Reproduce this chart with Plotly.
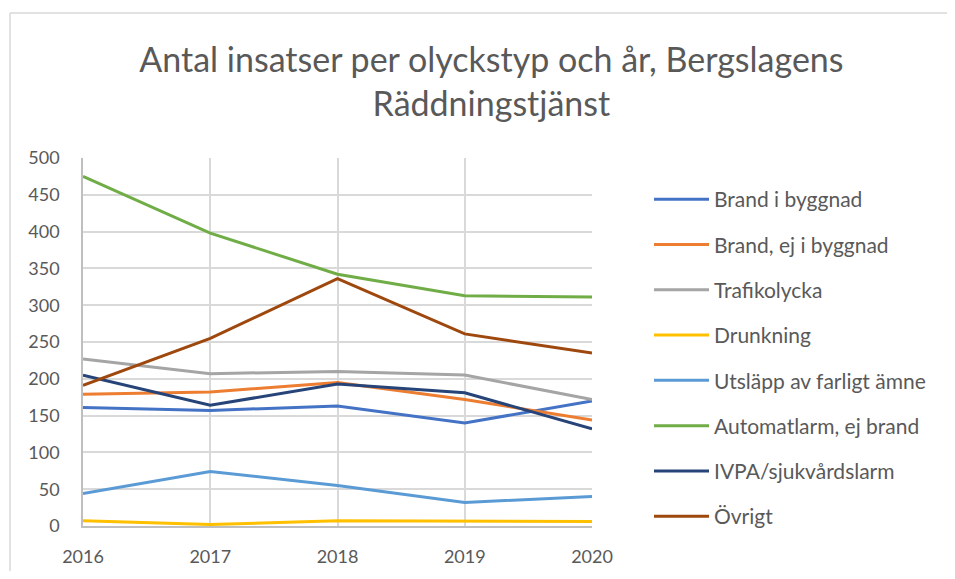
import plotly.graph_objects as go

years = [2016, 2017, 2018, 2019, 2020]
brand_i_byggnad = [161, 157, 163, 140, 170]
brand_ej_i_byggnad = [179, 182, 195, 172, 144]
trafikolycka = [227, 207, 210, 205, 172]
drunkning = [7, 2, 7, 6, 6]
utslapp = [44, 74, 55, 32, 40]
automatlarm = [475, 398, 342, 313, 311]
ivpa = [205, 164, 193, 181, 132]
ovrigt = [191, 255, 336, 261, 235]

series = [
    ("Brand i byggnad", brand_i_byggnad, "#4472C4"),
    ("Brand, ej i byggnad", brand_ej_i_byggnad, "#ED7D31"),
    ("Trafikolycka", trafikolycka, "#A5A5A5"),
    ("Drunkning", drunkning, "#FFC000"),
    ("Utsläpp av farligt ämne", utslapp, "#5B9BD5"),
    ("Automatlarm, ej brand", automatlarm, "#70AD47"),
    ("IVPA/sjukvårdslarm", ivpa, "#264478"),
    ("Övrigt", ovrigt, "#9E480E"),
]

y_ticks = list(range(0, 501, 50))

fig = go.Figure()
for i, (name, vals, col) in enumerate(series):
    fig.add_trace(go.Scatter(x=years, y=vals, name=name, mode="lines",
                             line=dict(color=col, width=3), legendgroup=str(i)))

font_family = "Lato, 'Open Sans', sans-serif"
fig.update_layout(
    width=947, height=563,
    margin=dict(l=75, r=363, t=150, b=45, autoexpand=False),
    paper_bgcolor="white", plot_bgcolor="white",
    title=dict(text="Antal insatser per olyckstyp och år, Bergslagens<br>Räddningstjänst",
               x=0.5105, xanchor="center", y=0.887, yanchor="middle",
               font=dict(family=font_family, size=34, color="#595959")),
    font=dict(family=font_family, color="#595959", size=18),
    legend=dict(x=1.112, xanchor="left", y=0.4565, yanchor="middle",
                font=dict(size=21, color="#595959"), tracegroupgap=15,
                itemwidth=55, bgcolor="rgba(0,0,0,0)"),
    xaxis=dict(range=[2016, 2020], tickvals=years, ticktext=[str(y) for y in years],
               showgrid=True, gridcolor="#D9D9D9", gridwidth=1.5,
               showline=True, linecolor="#BFBFBF", linewidth=1.5, automargin=False,
               zeroline=False, ticks="", ticklabelstandoff=14,
               tickfont=dict(size=18, color="#595959")),
    yaxis=dict(range=[0, 500], tickvals=y_ticks,
               showgrid=True, gridcolor="#D9D9D9", gridwidth=1.5,
               showline=True, linecolor="#BFBFBF", linewidth=1.5, automargin=False,
               zeroline=False, ticks="", ticklabelstandoff=18,
               tickfont=dict(size=18, color="#595959")),
    shapes=[
        dict(type="line", xref="paper", yref="paper", x0=-0.1434, x1=1.8, y0=1.394, y1=1.394,
             line=dict(color="#D9D9D9", width=1.5)),
        dict(type="line", xref="paper", yref="paper", x0=-0.1434, x1=-0.1434, y0=1.394, y1=-0.2,
             line=dict(color="#D9D9D9", width=1.5)),
    ],
)
fig.write_html("out.html")
